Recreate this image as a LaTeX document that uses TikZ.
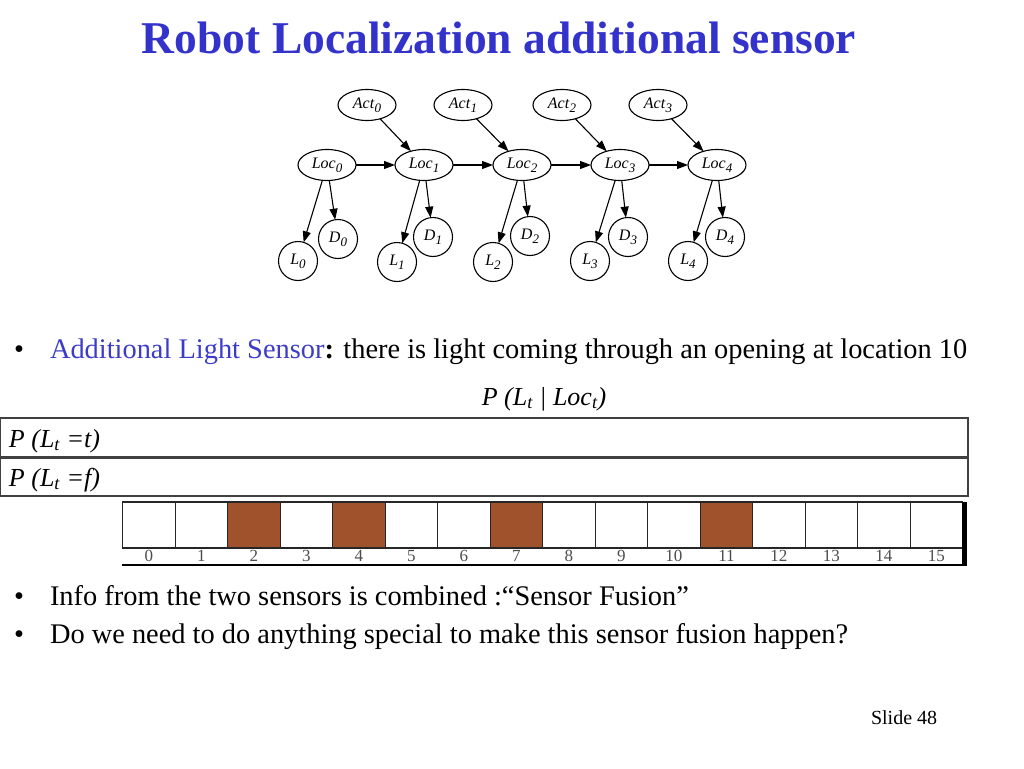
\documentclass[tikz,border=0pt]{standalone}
\usepackage{fontspec}
\setmainfont{Liberation Serif}
\usetikzlibrary{shapes.geometric,arrows.meta}
\definecolor{titleblue}{RGB}{51,51,204}
\definecolor{textblue}{RGB}{60,60,200}
\definecolor{brick}{RGB}{160,82,45}
\definecolor{rule}{RGB}{64,64,64}
\newcommand\lab[2]{\textit{#1}\raisebox{-0.5ex}{\fontsize{13}{13}\selectfont\textit{#2}}}
\begin{document}
\begin{tikzpicture}[x=1pt,y=-1pt,
  every node/.style={inner sep=0pt,outer sep=0pt},
  ell/.style={draw,line width=1.1pt,ellipse,minimum width=58pt,minimum height=31pt,fill=white,font=\fontsize{16}{16}\selectfont},
  circ/.style={draw,line width=1.1pt,circle,minimum size=39pt,fill=white,font=\fontsize{16}{16}\selectfont},
  arr/.style={line width=1.1pt,-{Triangle[length=11pt,width=8pt]}},
  body/.style={anchor=base west,font=\fontsize{28.4}{30}\selectfont},
  cell/.style={draw=black!85,line width=1.4pt},
  num/.style={font=\fontsize{17}{17}\selectfont,text=black!70}
]
\useasboundingbox (0,0) rectangle (1024,768);
% title
\node[anchor=base,font=\fontsize{45.5}{46}\selectfont\bfseries,text=titleblue] (title) at (499,53) {Robot Localization additional sensor};
% diagram
\node[ell] (a0) at (367,105) {\lab{Act}{0}};
\node[ell] (a1) at (463,105) {\lab{Act}{1}};
\node[ell] (a2) at (562,105) {\lab{Act}{2}};
\node[ell] (a3) at (658,105) {\lab{Act}{3}};
\node[ell] (c0) at (327,165) {\lab{Loc}{0}};
\node[ell] (c1) at (424,165) {\lab{Loc}{1}};
\node[ell] (c2) at (522,165) {\lab{Loc}{2}};
\node[ell] (c3) at (620,165) {\lab{Loc}{3}};
\node[ell] (c4) at (717,165) {\lab{Loc}{4}};
\node[circ] (l0) at (298,261) {\lab{L}{0}};
\node[circ] (d0) at (338,239) {\lab{D}{0}};
\node[circ] (l1) at (397,262) {\lab{L}{1}};
\node[circ] (d1) at (433,237) {\lab{D}{1}};
\node[circ] (l2) at (493,262) {\lab{L}{2}};
\node[circ] (d2) at (530,236) {\lab{D}{2}};
\node[circ] (l3) at (590,261) {\lab{L}{3}};
\node[circ] (d3) at (628,237) {\lab{D}{3}};
\node[circ] (l4) at (688,261) {\lab{L}{4}};
\node[circ] (d4) at (725,237) {\lab{D}{4}};
\foreach \i/\j in {0/1,1/2,2/3,3/4}{
  \draw[arr] (c\i) -- (c\j);
  \draw[arr] (a\i) -- (c\j);
}
\foreach \i in {0,...,4}{
  \draw[arr] (c\i) -- (l\i);
  \draw[arr] (c\i) -- (d\i);
}
% bullet 1
\node[body] (b1) at (14,358) {•};
\node[body] (t1) at (50,358) {\textcolor{textblue}{Additional Light Sensor}\textbf{:} there is light coming through an opening at location 10};
\node[anchor=base,font=\fontsize{26}{28}\selectfont\itshape] (cond) at (544,405) {P (L\textsubscript{t} | Loc\textsubscript{t})};
% table
\draw[rule,line width=1.3pt] (0,418) rectangle (968,457);
\draw[rule,line width=1.3pt] (0,458) rectangle (968,496);
\node[anchor=base west,font=\fontsize{26}{28}\selectfont\itshape] (rt) at (9,447) {P (L\textsubscript{t} =t)};
\node[anchor=base west,font=\fontsize{26}{28}\selectfont\itshape] (rf) at (9,486) {P (L\textsubscript{t} =f)};
% strip
\foreach \k in {0,...,15}{
  \pgfmathsetmacro\xa{122.7+52.5*\k}
  \pgfmathsetmacro\xb{122.7+52.5*(\k+1)}
  \pgfmathsetmacro\xc{122.7+52.5*(\k+0.5)}
  \draw[cell] (\xa,502) rectangle (\xb,548);
  \node[num,anchor=base] at (\xc,561) {\k};
}
\foreach \k in {2,4,7,11}{
  \pgfmathsetmacro\xa{122.7+52.5*\k}
  \pgfmathsetmacro\xb{122.7+52.5*(\k+1)}
  \draw[cell,fill=brick] (\xa,502) rectangle (\xb,548);
}
\fill[black] (962,502) rectangle (967,566);
\fill[black] (122,563.5) rectangle (967,566);
% bullets 2,3
\node[body] (b2) at (14,605) {•};
\node[body] (t2) at (50,605) {Info from the two sensors is combined :“Sensor Fusion”};
\node[body] (b3) at (14,643) {•};
\node[body] (t3) at (50,643) {Do we need to do anything special to make this sensor fusion happen?};
\node[anchor=base west,font=\fontsize{20}{20}\selectfont] (slide) at (871,724) {Slide 48};
\end{tikzpicture}
\end{document}
